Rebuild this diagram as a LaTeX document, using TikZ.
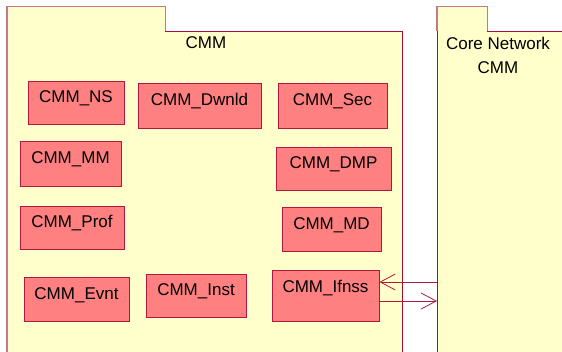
\documentclass[tikz,border=0pt]{standalone}
\usepackage{fontspec}
\setmainfont{Liberation Sans}
\usepackage{tikz}
\usetikzlibrary{arrows.meta, positioning, calc}
\definecolor{pkgyellow}{HTML}{FFFFCC}
\definecolor{pkgdark}{HTML}{A3103C}
\definecolor{pkglight}{HTML}{C8768C}
\definecolor{compred}{HTML}{FF8080}
\definecolor{compline}{HTML}{B01840}

\begin{document}
\begin{tikzpicture}[
  x=1pt, y=-1pt,
  comp/.style={
    rectangle,
    draw=compline,
    fill=compred,
    line width=0.9pt,
    inner sep=0pt,
    text height=5pt,
    text depth=5pt,
    font=\fontsize{17}{20}\selectfont
  },
  pkg/.style={
    rectangle,
    fill=pkgyellow,
    inner sep=0pt
  },
  darkedge/.style={draw=pkgdark, line width=1pt},
  lightedge/.style={draw=pkglight, line width=1.6pt},
  flow/.style={draw=compline, line width=0.8pt,
    -{Straight Barb[length=15pt, width=16pt, line width=0.8pt]}}
]
  \useasboundingbox (0,0) rectangle (562,351);
  \clip (0,0) rectangle (562,351);

  % Packages
  \node[pkg, minimum width=395pt, minimum height=340pt, anchor=north west] (cmm) at (7,31) {};
  \node[pkg, minimum width=158pt, minimum height=24pt, anchor=south west] (cmmtab) at (7,31) {};
  \draw[darkedge] (cmmtab.south east) -- (cmm.north east) -- (cmm.south east);
  \draw[lightedge] (cmm.south west) -- (cmmtab.north west) -- (cmmtab.north east) -- (cmmtab.south east);
  \node[anchor=base, font=\fontsize{17}{20}\selectfont] (cmmlbl) at (206,48) {CMM};

  \node[pkg, minimum width=140pt, minimum height=340pt, anchor=north west] (core) at (437,31) {};
  \node[pkg, minimum width=50pt, minimum height=24pt, anchor=south west] (coretab) at (437,31) {};
  \draw[darkedge] (coretab.south east) -- (core.north east);
  \draw[darkedge] (coretab.south west) -- (core.south west);
  \draw[lightedge] (coretab.south west) -- (coretab.north west) -- (coretab.north east) -- (coretab.south east);
  \node[anchor=north, align=center, inner sep=0pt, font=\fontsize{17}{24}\selectfont] (corelbl) at (498,37) {Core Network\\CMM};

  % Components
  \node[comp, minimum width=96pt, minimum height=43pt] (ns) at (76,102.5) {CMM\_NS};
  \node[comp, minimum width=123pt, minimum height=45pt] (dwnld) at (199.5,105.5) {CMM\_Dwnld};
  \node[comp, minimum width=109pt, minimum height=45pt] (sec) at (332.5,105.5) {CMM\_Sec};
  \node[comp, minimum width=101pt, minimum height=45pt] (mm) at (70.5,163.5) {CMM\_MM};
  \node[comp, minimum width=115pt, minimum height=43pt] (dmp) at (333.5,168.5) {CMM\_DMP};
  \node[comp, minimum width=104pt, minimum height=43pt] (prof) at (72,227.5) {CMM\_Prof};
  \node[comp, minimum width=99pt, minimum height=44pt] (md) at (331.5,229) {CMM\_MD};
  \node[comp, minimum width=105pt, minimum height=44pt] (evnt) at (76.5,299) {CMM\_Evnt};
  \node[comp, minimum width=100pt, minimum height=43pt] (inst) at (196,295.5) {CMM\_Inst};
  \node[comp, minimum width=107pt, minimum height=51pt, text depth=12pt] (ifnss) at (325.5,295.5) {CMM\_Ifnss};

  % Interfaces to the core network
  \draw[flow] (core.west |- {$(ifnss.east)+(0,-13.5)$}) -- ($(ifnss.east)+(0,-13.5)$);
  \draw[flow] ($(ifnss.east)+(0,5.5)$) -- (core.west |- {$(ifnss.east)+(0,5.5)$});
\end{tikzpicture}
\end{document}
